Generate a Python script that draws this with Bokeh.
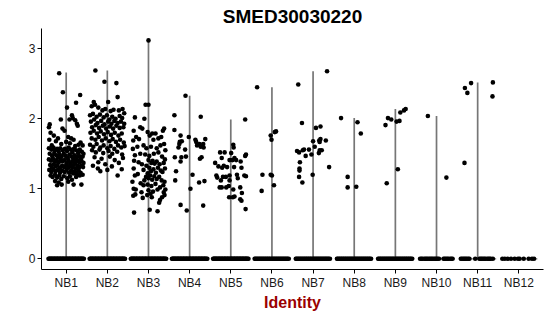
from bokeh.plotting import figure
from bokeh.models import Range1d, FixedTicker
from bokeh.embed import file_html
from bokeh.resources import INLINE

categories = ["NB1", "NB2", "NB3", "NB4", "NB5", "NB6", "NB7", "NB8", "NB9", "NB10", "NB11", "NB12"]
violin_max = [2.66, 2.69, 3.12, 2.33, 1.99, 2.45, 2.68, 2.01, 2.14, 2.04, 2.52, 0.0]

# ---- non-zero cells: (jitter offset, expression) per cluster ----
nb1_pts = [(-0.17,2.65),(-0.08,2.38),(0.34,2.34),(0.24,2.23),(0.02,2.16),(0.14,2.05),(0.16,2.01),(0.08,1.99),
 (0.22,1.98),(-0.13,1.99),(0.26,1.93),(-0.40,1.92),(-0.42,1.88),(-0.09,1.86),(-0.04,1.83),(0.28,1.90),
 (-0.38,1.80),(-0.30,1.76),(0.05,1.74),(0.12,1.72),(-0.20,1.72),(0.18,1.70),(0.35,1.66),(0.30,1.63),
 (-0.41,1.70),(-0.25,1.68),(0.00,1.67),(0.09,1.65),(-0.12,1.64),(0.40,1.62),(-0.35,1.62),(0.22,1.61),
 (-0.42,1.58),(-0.36,1.56),(-0.31,1.59),(-0.27,1.55),(-0.22,1.57),(-0.18,1.53),(-0.14,1.58),(-0.08,1.55),
 (-0.03,1.57),(0.02,1.54),(0.06,1.59),(0.11,1.56),(0.15,1.52),(0.19,1.57),(0.24,1.55),(0.29,1.51),
 (0.33,1.56),(0.38,1.53),(0.42,1.50),(-0.40,1.50),(-0.34,1.47),(-0.29,1.51),(-0.24,1.48),(-0.20,1.45),
 (-0.16,1.49),(-0.11,1.46),(-0.06,1.50),(-0.01,1.47),(0.04,1.44),(0.08,1.49),(0.13,1.46),(0.17,1.43),
 (0.21,1.48),(0.26,1.45),(0.31,1.47),(0.35,1.43),(0.40,1.46),(-0.42,1.42),(-0.37,1.40),(-0.32,1.43),
 (-0.27,1.39),(-0.23,1.41),(-0.18,1.38),(-0.13,1.42),(-0.09,1.39),(-0.04,1.41),(0.01,1.37),(0.06,1.40),
 (0.10,1.36),(0.15,1.39),(0.19,1.41),(0.23,1.37),(0.28,1.40),(0.33,1.38),(0.37,1.40),(0.42,1.37),
 (-0.39,1.34),(-0.35,1.31),(-0.30,1.35),(-0.25,1.32),(-0.21,1.34),(-0.15,1.30),(-0.10,1.33),(-0.05,1.31),
 (0.00,1.34),(0.05,1.30),(0.09,1.33),(0.14,1.31),(0.18,1.34),(0.22,1.29),(0.27,1.33),(0.31,1.30),
 (0.36,1.33),(0.41,1.31),(-0.41,1.27),(-0.36,1.24),(-0.31,1.28),(-0.26,1.25),(-0.20,1.27),(-0.15,1.23),
 (-0.10,1.26),(-0.04,1.24),(0.01,1.27),(0.07,1.23),(0.12,1.26),(0.17,1.22),(0.21,1.25),(0.26,1.21),
 (0.30,1.26),(0.35,1.23),(0.40,1.20),(-0.38,1.19),(-0.33,1.17),(-0.27,1.20),(-0.22,1.16),(-0.17,1.19),
 (-0.12,1.14),(-0.06,1.18),(0.03,1.15),(0.09,1.18),(0.14,1.13),(0.24,1.17),(0.33,1.19),(-0.27,1.11),
 (-0.18,1.09),(-0.11,1.06),(0.05,1.10),(0.18,1.06),(0.37,1.06),(-0.22,1.05)]

nb2_pts = [(-0.29,2.69),(-0.07,2.53),(0.22,2.51),(0.25,2.31),(0.02,2.24),(-0.33,2.24),
 (-0.38,2.18),(-0.30,2.20),(-0.22,2.16),(-0.12,2.12),(-0.05,2.14),(0.08,2.11),(0.15,2.13),(0.28,2.12),
 (0.37,2.14),(0.41,2.08),(-0.42,2.05),(-0.35,2.07),(-0.26,2.03),(-0.18,2.06),(-0.09,2.02),(-0.01,2.05),
 (0.05,1.99),(0.12,2.03),(0.20,2.00),(0.30,2.04),(0.36,2.01),(-0.40,1.96),(-0.32,1.99),(-0.24,1.94),
 (-0.15,1.97),(-0.07,1.92),(0.02,1.96),(0.10,1.93),(0.17,1.97),(0.25,1.94),(0.33,1.96),(0.41,1.93),
 (-0.37,1.88),(-0.28,1.91),(-0.20,1.87),(-0.11,1.90),(-0.03,1.86),(0.06,1.89),(0.14,1.86),(0.22,1.90),
 (0.30,1.87),(0.39,1.88),(-0.41,1.80),(-0.33,1.83),(-0.25,1.79),(-0.16,1.82),(-0.08,1.78),(0.01,1.81),
 (0.09,1.77),(0.18,1.80),(0.27,1.76),(0.35,1.79),(-0.38,1.72),(-0.29,1.70),(-0.21,1.74),(-0.13,1.69),
 (-0.04,1.72),(0.05,1.68),(0.13,1.71),(0.21,1.67),(0.31,1.70),(0.40,1.66),(-0.42,1.63),(-0.34,1.60),
 (-0.26,1.64),(-0.17,1.59),(-0.09,1.62),(0.00,1.58),(0.08,1.61),(0.17,1.57),(0.26,1.62),(0.34,1.59),
 (0.42,1.61),(-0.37,1.55),(-0.28,1.52),(-0.19,1.56),(-0.10,1.51),(0.03,1.54),(0.12,1.50),(0.24,1.53),
 (0.36,1.49),(-0.31,1.45),(-0.14,1.43),(0.06,1.46),(0.18,1.41),(0.38,1.44),(-0.22,1.38),(0.28,1.37),
 (-0.05,1.35),(0.11,1.32),(-0.17,1.25),(-0.23,1.29),(0.00,1.27),(0.25,1.19),(0.35,1.28),(-0.35,1.33)]

nb3_pts = [(0.00,3.12),(-0.07,2.20),(0.00,2.20),(-0.33,2.02),(-0.10,2.00),(-0.36,1.83),(-0.20,1.88),
 (-0.15,1.86),(-0.02,1.81),(0.09,1.79),(0.17,1.79),(0.31,1.74),(0.38,1.86),(0.35,1.83),(-0.37,1.69),
 (-0.23,1.71),(-0.30,1.74),(0.03,1.76),(0.12,1.70),(0.24,1.72),(0.38,1.64),(-0.38,1.57),(-0.27,1.60),
 (-0.12,1.62),(-0.05,1.58),(0.06,1.60),(0.20,1.58),(0.29,1.62),(0.41,1.55),(-0.20,1.50),(0.24,1.52),
 (-0.33,1.48),(-0.08,1.49),(0.02,1.47),(0.13,1.50),(0.33,1.46),(0.40,1.42),(-0.35,1.40),(-0.16,1.35),
 (-0.24,1.38),(0.00,1.41),(0.07,1.37),(0.10,1.40),(0.15,1.36),(0.20,1.39),(0.27,1.35),(0.37,1.37),
 (-0.05,1.33),(-0.36,1.29),(-0.26,1.21),(-0.12,1.27),(0.02,1.30),(0.06,1.25),(0.12,1.28),(0.18,1.23),
 (0.23,1.30),(0.30,1.26),(0.34,1.24),(0.40,1.29),(-0.02,1.22),(-0.33,1.19),(-0.19,1.08),(-0.06,1.17),
 (0.00,1.15),(0.04,1.19),(0.09,1.13),(0.14,1.18),(0.20,1.14),(0.26,1.17),(0.32,1.12),(0.39,1.10),
 (-0.10,1.12),(-0.39,1.10),(-0.12,1.05),(-0.02,1.06),(0.07,1.04),(0.17,1.07),(0.28,1.02),(0.36,1.05),
 (-0.36,1.00),(-0.31,0.99),(-0.17,0.95),(0.00,0.98),(0.05,0.93),(0.11,0.96),(0.22,0.99),(0.37,0.95),
 (0.41,0.99),(-0.37,0.90),(-0.32,0.92),(-0.14,0.87),(-0.03,0.91),(0.08,0.88),(0.28,0.84),(0.33,0.88),
 (0.39,0.91),(-0.35,0.66),(0.03,0.70),(0.22,0.68),(0.26,0.80)]

nb4_pts = [(-0.10,2.33),(-0.37,2.05),(0.27,2.03),(-0.37,1.84),(-0.22,1.76),(-0.02,1.74),(-0.25,1.64),
 (-0.24,1.67),(-0.19,1.68),(-0.27,1.59),(-0.11,1.56),(-0.36,1.45),(-0.20,1.45),(-0.09,1.46),(-0.22,1.39),
 (-0.33,1.25),(-0.35,1.12),(0.07,1.20),(0.02,1.00),(-0.22,0.77),(-0.07,0.69),(0.14,1.70),(0.16,1.67),
 (0.18,1.62),(0.24,1.64),(0.27,1.60),(0.33,1.64),(0.38,1.71),(0.34,1.59),(0.29,1.45),(0.25,1.43),
 (0.23,1.09),(0.36,1.11),(0.33,0.76)]

nb5_pts = [(-0.26,1.52),(-0.15,1.52),(0.06,1.63),(0.07,1.59),(-0.22,1.44),(-0.03,1.41),(0.04,1.41),
 (0.09,1.44),(0.13,1.41),(0.24,1.39),(0.37,1.49),(0.35,1.47),(-0.38,1.37),(-0.30,1.32),(-0.17,1.33),
 (-0.21,1.30),(-0.09,1.31),(0.08,1.31),(0.26,1.30),(0.37,1.18),(0.33,1.19),(0.15,1.20),(-0.03,1.19),
 (-0.12,1.17),(-0.19,1.17),(-0.35,1.19),(-0.33,1.16),(-0.24,1.12),(-0.03,1.12),(0.17,1.15),(-0.27,1.02),
 (-0.22,1.02),(-0.11,1.02),(-0.05,1.04),(0.23,1.02),(0.06,0.99),(0.27,0.94),(-0.04,0.88),(0.05,0.88),
 (0.09,0.89),(0.23,0.85),(0.26,0.83),(0.36,0.71),(0.01,1.51),(0.35,1.99)]

nb6_pts = [(-0.36,2.45),(-0.25,0.97),(-0.23,1.20),(-0.03,1.20),(0.00,1.19),(0.05,1.05),(-0.03,1.76),
 (-0.01,1.70),(0.07,1.81),(0.10,1.82)]

nb7_pts = [(-0.36,2.49),(0.34,2.68),(-0.27,1.94),(0.07,1.87),(0.18,1.89),(0.00,1.68),(-0.39,1.54),
 (-0.34,1.52),(-0.25,1.55),(-0.22,1.56),(-0.10,1.56),(-0.18,1.47),(-0.04,1.49),(0.04,1.60),(0.16,1.67),
 (0.18,1.71),(0.15,1.69),(0.31,1.69),(0.16,1.55),(0.21,1.55),(0.14,1.51),(-0.32,1.38),(-0.33,1.29),
 (-0.33,1.26),(-0.34,1.17),(-0.26,1.09),(-0.01,1.20),(0.39,1.31)]

nb8_pts = [(-0.32,2.01),(0.08,1.95),(0.16,1.79),(-0.16,1.17),(-0.16,1.02),(0.05,1.03)]

nb9_pts = [(-0.24,1.91),(-0.18,2.01),(-0.10,1.99),(0.03,1.96),(0.10,1.97),(0.12,2.09),(0.21,2.12),
 (0.25,2.14),(-0.21,1.08),(0.06,1.28)]

nb10_pts = [(-0.21,2.04),(0.24,1.16)]

nb11_pts = [(-0.31,2.44),(-0.25,2.37),(-0.16,2.51),(0.37,2.52),(0.36,2.32),(-0.32,1.37)]

nb12_pts = []

# ---- zero-expression cells: jitter offsets per cluster ----
zero_dense = [-0.43, -0.41, -0.40, -0.38, -0.36, -0.35, -0.33, -0.31, -0.29, -0.28, -0.26, -0.24,
              -0.22, -0.21, -0.19, -0.17, -0.15, -0.14, -0.12, -0.10, -0.08, -0.07, -0.05, -0.03,
              -0.01, 0.01, 0.02, 0.04, 0.06, 0.08, 0.09, 0.11, 0.13, 0.15, 0.16, 0.18, 0.20, 0.22,
              0.23, 0.25, 0.27, 0.29, 0.30, 0.32, 0.34, 0.36, 0.37, 0.39, 0.41, 0.43]
zero_mid = [-0.42, -0.40, -0.37, -0.35, -0.32, -0.30, -0.27, -0.25, -0.22, -0.20, -0.17, -0.15,
            -0.12, -0.10, -0.07, -0.05, -0.02, 0.01, 0.03, 0.06, 0.08, 0.11, 0.13, 0.16, 0.18,
            0.21, 0.23, 0.26, 0.28, 0.31, 0.33, 0.36, 0.38, 0.41]
zero_nb10 = [-0.40, -0.37, -0.34, -0.30, -0.27, -0.24, -0.21, -0.18, -0.15, -0.12, -0.09, -0.06,
             -0.03, 0.00, 0.03, 0.06, 0.17, 0.20, 0.23, 0.26, 0.29, 0.33, 0.36, 0.39]
zero_nb11 = [-0.41, -0.38, -0.35, -0.32, -0.29, -0.26, -0.23, -0.20, -0.06, 0.04, 0.07, 0.10,
             0.13, 0.16, 0.19, 0.23, 0.26, 0.29, 0.32, 0.37]
zero_nb12 = [-0.40, -0.34, -0.27, -0.19, -0.10, -0.02, 0.02, 0.12, 0.24, 0.32, 0.37]

nonzero = [nb1_pts, nb2_pts, nb3_pts, nb4_pts, nb5_pts, nb6_pts, nb7_pts, nb8_pts,
           nb9_pts, nb10_pts, nb11_pts, nb12_pts]
zeros = [zero_dense] * 5 + [zero_mid] * 4 + [zero_nb10, zero_nb11, zero_nb12]

positions = list(range(1, len(categories) + 1))

p = figure(width=550, height=316, x_range=Range1d(0.4, 12.6), y_range=Range1d(-0.153, 3.29),
           output_backend="svg", toolbar_location=None,
           min_border_left=41, min_border_right=7, min_border_top=28, min_border_bottom=47)

p.title.text = "SMED30030220"
p.title.align = "center"
p.title.text_font = "Liberation Sans"
p.title.text_font_size = "19px"
p.title.text_font_style = "bold"
p.title.text_color = "#000000"
p.title.standoff = 4
p.title.offset = 0

p.xgrid.visible = False
p.ygrid.visible = False
p.outline_line_color = None
p.background_fill_color = "white"
p.border_fill_color = "white"

# violins (collapsed to thin lines)
p.segment(x0=positions, y0=[0] * 12, x1=positions, y1=violin_max, line_color="#767676", line_width=1.7)
p.segment(x0=[x - 0.45 for x in positions], y0=[0] * 12, x1=[x + 0.45 for x in positions], y1=[0] * 12,
          line_color="#707070", line_width=1.2)

xs, ys = [], []
for pos, pts, zs in zip(positions, nonzero, zeros):
    for off, v in pts:
        xs.append(pos + off)
        ys.append(v)
    for off in zs:
        xs.append(pos + off)
        ys.append(0.0)
p.scatter(xs, ys, size=4.6, color="black", line_width=0)

for ax in (p.xaxis[0], p.yaxis[0]):
    ax.axis_line_color = "black"
    ax.axis_line_width = 1
    ax.major_tick_line_color = "black"
    ax.major_tick_in = 0
    ax.major_tick_out = 4
    ax.minor_tick_line_color = None
    ax.major_label_text_font = "Liberation Sans"
    ax.major_label_text_font_size = "12px"
    ax.major_label_text_color = "#1a1a1a"
    ax.major_label_standoff = 2

p.xaxis.ticker = FixedTicker(ticks=positions)
p.xaxis.major_label_overrides = {pos: c for pos, c in zip(positions, categories)}
p.yaxis.ticker = FixedTicker(ticks=[0, 1, 2, 3])
p.xaxis.axis_label = "Identity"
p.xaxis.axis_label_text_font = "Liberation Sans"
p.xaxis.axis_label_text_font_size = "16px"
p.xaxis.axis_label_text_font_style = "bold"
p.xaxis.axis_label_text_color = "#9B0000"
p.xaxis.axis_label_standoff = 1

open("out.html", "w").write(file_html(p, INLINE))
